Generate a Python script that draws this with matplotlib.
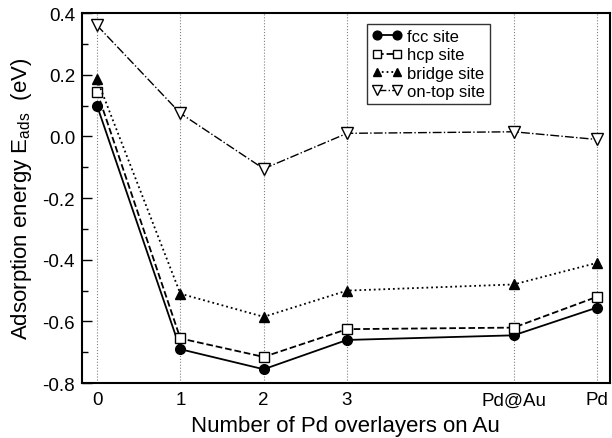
import matplotlib
matplotlib.use("Agg")
import matplotlib.pyplot as plt
from matplotlib.ticker import MultipleLocator

plt.rcParams['font.family'] = ['Liberation Sans', 'DejaVu Sans']
plt.rcParams['mathtext.fontset'] = 'custom'
plt.rcParams['mathtext.rm'] = 'Liberation Sans'

# x positions and labels
x = [0, 1, 2, 3, 5, 6]
xlabels = ['0', '1', '2', '3', 'Pd@Au', 'Pd']

# adsorption energies (eV)
fcc = [0.10, -0.69, -0.755, -0.66, -0.645, -0.555]
hcp = [0.145, -0.655, -0.715, -0.625, -0.62, -0.52]
bridge = [0.185, -0.51, -0.585, -0.50, -0.48, -0.41]
ontop = [0.36, 0.075, -0.105, 0.01, 0.015, -0.01]

fig = plt.figure(figsize=(6.12, 4.39), dpi=100)
ax = fig.add_axes([0.134, 0.125, 0.862, 0.843])

for xv in x:
    ax.axvline(xv, color='gray', ls=':', lw=0.8, zorder=0)

ax.plot(x, fcc, 'k-', marker='o', ms=7, lw=1.3, label='fcc site')
ax.plot(x, hcp, 'k--', marker='s', ms=7, mfc='white', lw=1.3, label='hcp site')
ax.plot(x, bridge, 'k:', marker='^', ms=7, lw=1.3, label='bridge site')
ax.plot(x, ontop, 'k-.', marker='v', ms=8, mfc='white', lw=1.0, label='on-top site')

ax.set_xlim(-0.18, 6.15)
ax.set_ylim(-0.8, 0.4)
ax.set_xticks(x)
ax.set_xticklabels(xlabels)
ax.tick_params(axis='x', length=0, labelsize=13.5, pad=6)
ax.yaxis.set_major_locator(MultipleLocator(0.2))
ax.yaxis.set_minor_locator(MultipleLocator(0.1))
ax.yaxis.set_major_formatter(plt.FuncFormatter(lambda v, p: f'{v:.1f}'))
ax.tick_params(axis='y', which='major', direction='in', length=7, labelsize=13.5, width=1, pad=5)
ax.tick_params(axis='y', which='minor', direction='in', length=4, width=1)
for s in ax.spines.values():
    s.set_linewidth(1.5)

ax.set_xlabel('Number of Pd overlayers on Au', fontsize=16, labelpad=5)
ax.set_ylabel('Adsorption energy E$_{\\mathrm{ads}}$  (eV)', fontsize=16, labelpad=6)

leg = ax.legend(loc='upper left', bbox_to_anchor=(0.54, 0.97), fontsize=12,
                frameon=True, fancybox=False, edgecolor='black', numpoints=2,
                handlelength=1.8, handletextpad=0.3, borderpad=0.3, labelspacing=0.2,
                markerscale=0.9, borderaxespad=0)
leg.get_frame().set_linewidth(1.0)

fig.savefig('out.png', dpi=100)
